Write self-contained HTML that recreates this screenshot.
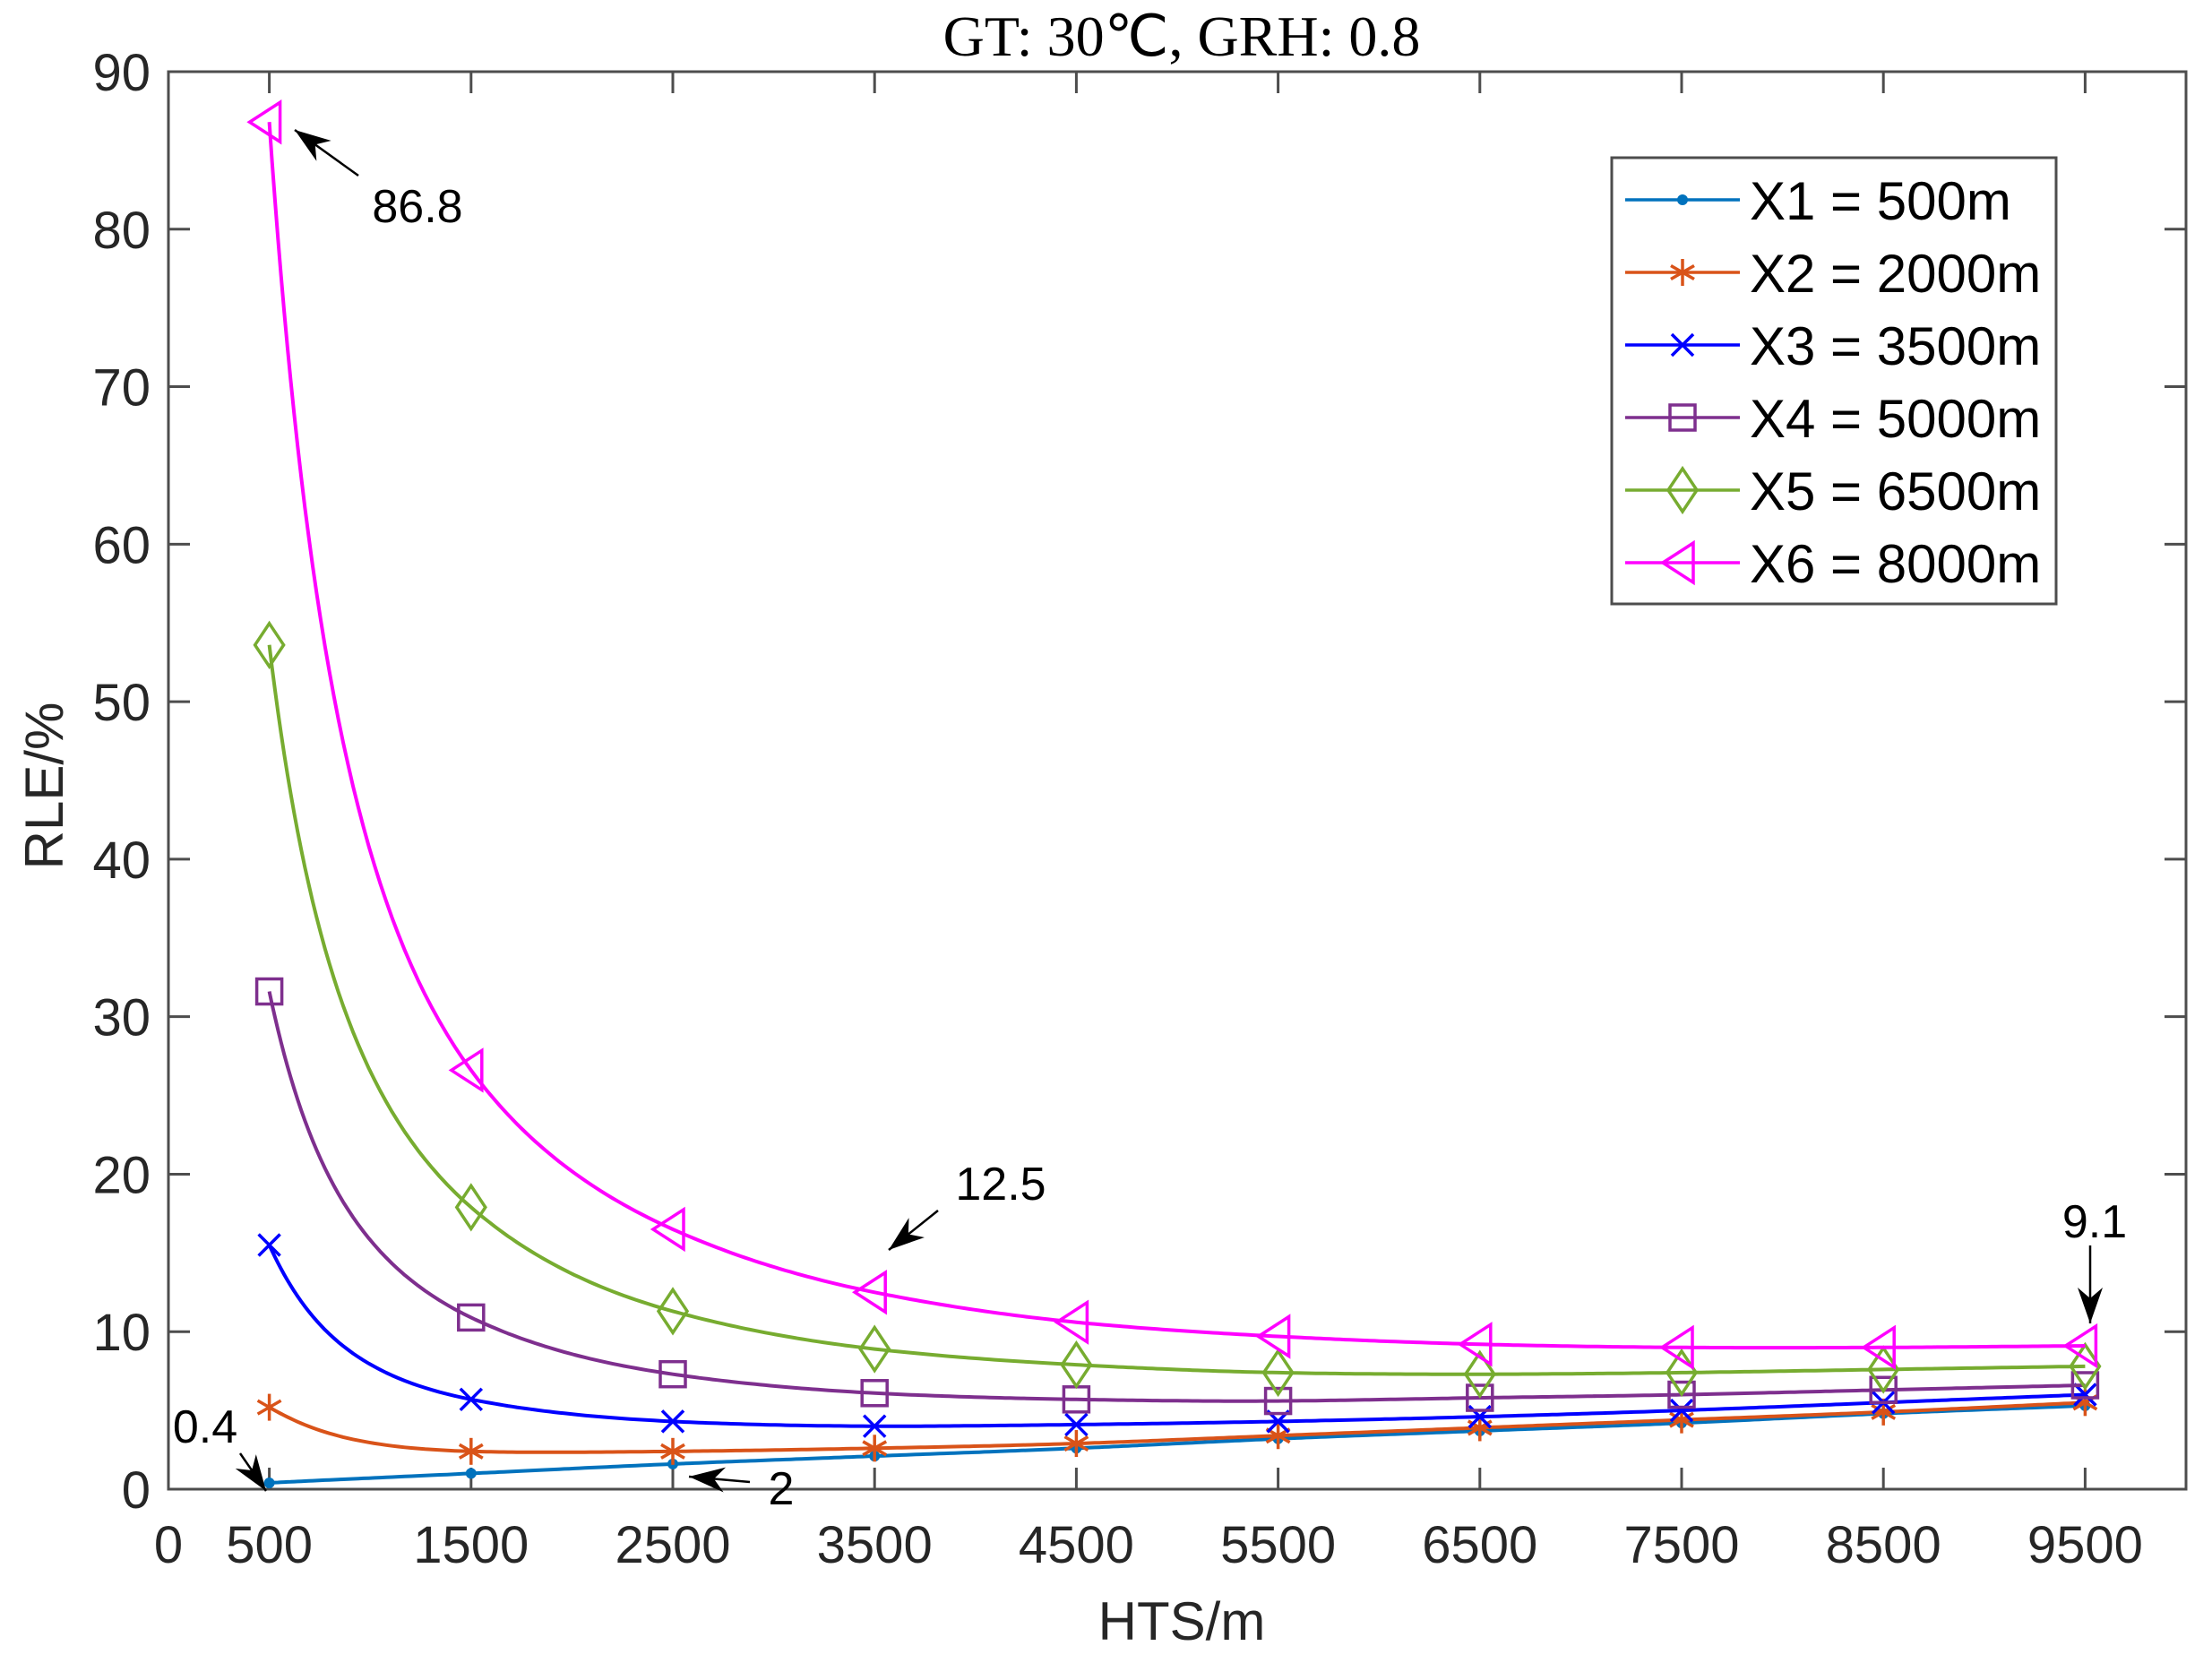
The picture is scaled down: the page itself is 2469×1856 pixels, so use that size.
<!DOCTYPE html>
<html><head><meta charset="utf-8"><style>
html,body{margin:0;padding:0;background:#fff;}
svg{display:block;}
text{font-family:"Liberation Sans",Arial,sans-serif;fill:#262626;}
</style></head><body>
<svg id="s" width="2469" height="1856" viewBox="0 0 2469 1856" xmlns="http://www.w3.org/2000/svg">
<rect width="2469" height="1856" fill="#fff"/>
<text x="1319" y="62" font-size="64" text-anchor="middle" style="font-family:'Liberation Serif',serif;fill:#000">GT: 30℃, GRH: 0.8</text>
<g id="g"></g>
</svg>
<script>
var NS="http://www.w3.org/2000/svg",g=document.getElementById('g');
var L=188,R=2440,T=80,B=1662;
function X(v){return L+(R-L)*v/10000;}
function Y(v){return B-(B-T)*v/90;}
function el(n,a,txt){var e=document.createElementNS(NS,n);for(var k in a)e.setAttribute(k,a[k]);if(txt!==undefined)e.textContent=txt;g.appendChild(e);return e;}
var xs=[500,1500,2500,3500,4500,5500,6500,7500,8500,9500];
var S=[
{c:'#0072BD',m:'dot',d:[0.4,1.0,1.6,2.1,2.6,3.2,3.7,4.2,4.8,5.3]},
{c:'#D95319',m:'star',d:[5.2,2.4,2.4,2.6,2.9,3.4,3.9,4.4,4.9,5.5]},
{c:'#0000FF',m:'x',d:[15.5,5.7,4.3,4.0,4.1,4.3,4.6,5.0,5.5,6.0]},
{c:'#7E2F8E',m:'sq',d:[31.6,10.9,7.3,6.1,5.7,5.6,5.8,6.0,6.3,6.6]},
{c:'#77AC30',m:'dia',d:[53.6,17.9,11.3,8.9,7.9,7.4,7.3,7.4,7.6,7.8]},
{c:'#FF00FF',m:'tri',d:[86.8,26.6,16.5,12.5,10.6,9.7,9.2,9.0,9.0,9.1]}];
el('rect',{x:L,y:T,width:R-L,height:B-T,fill:'none',stroke:'#4d4d4d','stroke-width':3});
for(var i=0;i<=9;i++){var y=Y(i*10);
el('line',{x1:L,y1:y,x2:L+24,y2:y,stroke:'#4d4d4d','stroke-width':3});
el('line',{x1:R,y1:y,x2:R-24,y2:y,stroke:'#4d4d4d','stroke-width':3});
el('text',{x:168,y:y+21,'font-size':58,'text-anchor':'end'},String(i*10));}
var xt=[0].concat(xs);
xt.forEach(function(v){var x=X(v);
if(v>0){el('line',{x1:x,y1:B,x2:x,y2:B-24,stroke:'#4d4d4d','stroke-width':3});
el('line',{x1:x,y1:T,x2:x,y2:T+24,stroke:'#4d4d4d','stroke-width':3});}
el('text',{x:x,y:1744,'font-size':58,'text-anchor':'middle'},String(v));});
el('text',{x:1319,y:1830,'font-size':60,'text-anchor':'middle'},'HTS/m');
el('text',{x:0,y:0,'font-size':60,'text-anchor':'middle',transform:'translate(70,877) rotate(-90)'},'RLE/%');
// log-log cubic interpolation
function curve(d){var u=xs.map(function(v){return Math.log(v);}),w=d.map(function(v){return Math.log(v);}),n=u.length;
var m=[];for(var i=0;i<n;i++){if(i==0)m[i]=(w[1]-w[0])/(u[1]-u[0]);else if(i==n-1)m[i]=(w[n-1]-w[n-2])/(u[n-1]-u[n-2]);
else{var a=(w[i]-w[i-1])/(u[i]-u[i-1]),b=(w[i+1]-w[i])/(u[i+1]-u[i]);m[i]=(a*(u[i+1]-u[i])+b*(u[i]-u[i-1]))/(u[i+1]-u[i-1]);}}
var pts=[];for(var i=0;i<n-1;i++){var h=u[i+1]-u[i];for(var k=0;k<40;k++){var t=k/40,t2=t*t,t3=t2*t;
var y=(2*t3-3*t2+1)*w[i]+(t3-2*t2+t)*h*m[i]+(-2*t3+3*t2)*w[i+1]+(t3-t2)*h*m[i+1];
pts.push([X(Math.exp(u[i]+t*h)),Y(Math.exp(y))]);}}
pts.push([X(xs[n-1]),Y(d[n-1])]);
return 'M'+pts.map(function(p){return p[0].toFixed(1)+','+p[1].toFixed(1);}).join(' L');}
function marker(m,x,y,c){var a={fill:'none',stroke:c,'stroke-width':3.5};
if(m==='dot'){el('circle',{cx:x,cy:y,r:6,fill:c});}
else if(m==='star'){[[0,15],[13,7.5],[13,-7.5]].forEach(function(q){el('line',Object.assign({x1:x-q[0],y1:y-q[1],x2:x+q[0],y2:y+q[1]},a));});}
else if(m==='x'){el('path',Object.assign({d:'M'+(x-12)+','+(y-12)+'L'+(x+12)+','+(y+12)+'M'+(x-12)+','+(y+12)+'L'+(x+12)+','+(y-12)},a));}
else if(m==='sq'){el('rect',Object.assign({x:x-14,y:y-14,width:28,height:28},a));}
else if(m==='dia'){el('path',Object.assign({d:'M'+x+','+(y-24)+'L'+(x+16)+','+y+'L'+x+','+(y+24)+'L'+(x-16)+','+y+'Z'},a));}
else if(m==='tri'){el('path',Object.assign({d:'M'+(x-22)+','+y+'L'+(x+12)+','+(y-22)+'L'+(x+12)+','+(y+22)+'Z'},a));}}
S.forEach(function(s){
el('path',{d:curve(s.d),fill:'none',stroke:s.c,'stroke-width':4,'stroke-linejoin':'round'});
xs.forEach(function(v,i){marker(s.m,X(v),Y(s.d[i]),s.c);});});
el('rect',{x:1799,y:176,width:496,height:498,fill:'#fff',stroke:'#4d4d4d','stroke-width':3});
var labs=['X1 = 500m','X2 = 2000m','X3 = 3500m','X4 = 5000m','X5 = 6500m','X6 = 8000m'];
S.forEach(function(s,i){var y=223+i*81;
el('line',{x1:1814,y1:y,x2:1942,y2:y,stroke:s.c,'stroke-width':3.5});
marker(s.m,1878,y,s.c);
el('text',{x:1953,y:y+22,'font-size':60,style:'fill:#000'},labs[i]);});
function arrow(x1,y1,x2,y2){el('line',{x1:x1,y1:y1,x2:x2,y2:y2,stroke:'#000','stroke-width':2.5});
var a=Math.atan2(y2-y1,x2-x1),l=40,w=14,bx=x2-l*Math.cos(a),by=y2-l*Math.sin(a);
el('path',{d:'M'+x2+','+y2+'L'+(bx-w*Math.sin(a))+','+(by+w*Math.cos(a))+'L'+(x2-0.7*l*Math.cos(a))+','+(y2-0.7*l*Math.sin(a))+'L'+(bx+w*Math.sin(a))+','+(by-w*Math.cos(a))+'Z',fill:'#000'});}
var af={'font-size':52,'text-anchor':'middle',style:'fill:#000'};
function T2(x,y,s){var o=Object.assign({x:x,y:y},af);el('text',o,s);}
arrow(400,196,329,145);T2(466,248,'86.8');
arrow(1047,1351,992,1395);T2(1117,1339,'12.5');
arrow(2333,1390,2333,1477);T2(2338,1381,'9.1');
arrow(268,1622,297,1664);T2(229,1610,'0.4');
arrow(837,1654,769,1648);T2(872,1679,'2');
</script>
</body></html>
